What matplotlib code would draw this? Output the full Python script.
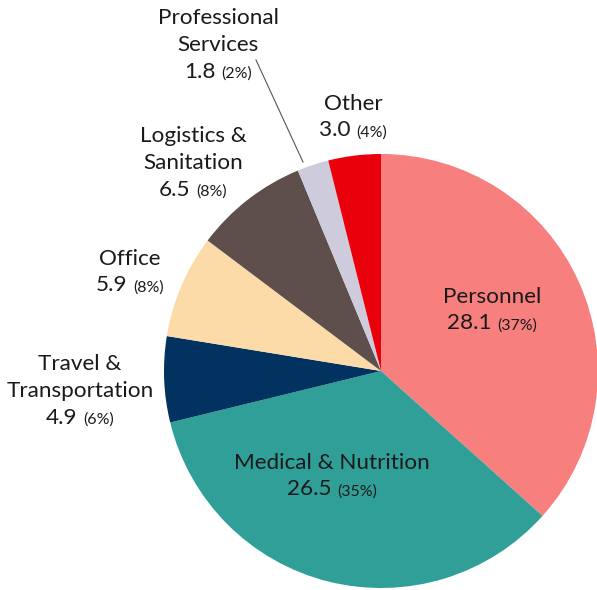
import matplotlib
matplotlib.use('Agg')
import matplotlib.pyplot as plt
from matplotlib.offsetbox import TextArea, HPacker, VPacker, AnnotationBbox

plt.rcParams['font.family'] = ['Lato', 'DejaVu Sans']

# data
categories = ['Personnel', 'Medical & Nutrition', 'Travel &\nTransportation', 'Office',
              'Logistics &\nSanitation', 'Professional\nServices', 'Other']
values = [28.1, 26.5, 4.9, 5.9, 6.5, 1.8, 3.0]
pct_labels = ['37%', '35%', '6%', '8%', '8%', '2%', '4%']
colors = ['#f7807f', '#2f9f98', '#023260', '#fddba9', '#5e4f4c', '#cdcbdc', '#e9000b']

# label block centres (pixels, y down)
label_xy = [(492, 310), (332, 476), (80, 391), (130, 272), (193, 163), (218, 45), (353, 117)]

fig = plt.figure(figsize=(5.97, 5.90), dpi=100)
ax = fig.add_axes([0, 0, 1, 1])

ax.pie(values, colors=colors, startangle=-90, counterclock=True,
       center=(381, 371), radius=217, wedgeprops=dict(linewidth=0))
ax.set_xlim(0, 597)
ax.set_ylim(590, 0)
ax.set_aspect('equal')
ax.axis('off')

txt_color = '#1a1a1a'
for name, val, pct, xy in zip(categories, values, pct_labels, label_xy):
    lines = [TextArea(l, textprops=dict(fontsize=16.2, color=txt_color)) for l in name.split('\n')]
    lines = [HPacker(children=[t], align='center', pad=0, sep=0) for t in lines]
    num = HPacker(children=[TextArea('{:.1f}'.format(val), textprops=dict(fontsize=16.2, color=txt_color)),
                            TextArea('(' + pct + ')', textprops=dict(fontsize=11.5, color=txt_color))],
                  align='baseline', pad=0, sep=4)
    box = VPacker(children=lines + [num], align='center', pad=0, sep=5)
    ab = AnnotationBbox(box, xy, xycoords='data', frameon=False, box_alignment=(0.5, 0.5), pad=0)
    ax.add_artist(ab)

# leader line for the small slice
ax.plot([256, 303], [60, 162], color='#555555', linewidth=0.8)

fig.savefig('out.png', dpi=100)
